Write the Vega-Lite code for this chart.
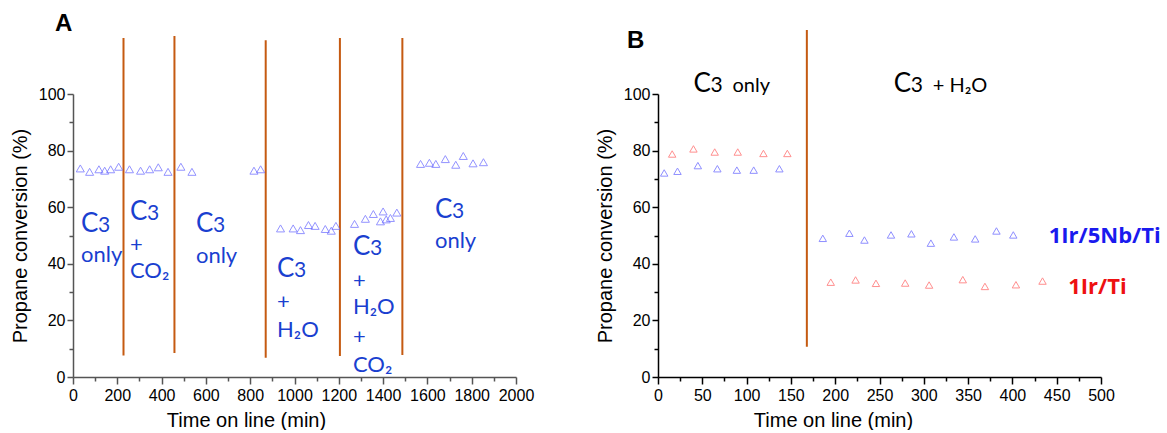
{
  "$schema": "https://vega.github.io/schema/vega-lite/v6.json",
  "background": "white",
  "padding": {"left": 10, "top": 11, "right": 0, "bottom": 0},
  "spacing": 61,
  "config": {
    "view": {"stroke": null},
    "axis": {
      "grid": false,
      "labelFont": "Liberation Sans",
      "labelFontSize": 16,
      "labelColor": "#000000",
      "titleFont": "Liberation Sans",
      "titleFontSize": 20,
      "titleFontWeight": "normal",
      "titleColor": "#000000",
      "labelOverlap": false,
      "labelFlush": false,
      "labelBound": false
    },
    "text": {"font": "Lato"}
  },
  "datasets": {
    "linesA": [
      {"t": 228, "v": 7.6, "v2": 119.8},
      {"t": 458, "v": 8.5, "v2": 120.5},
      {"t": 870, "v": 6.8, "v2": 119.0},
      {"t": 1205, "v": 7.4, "v2": 119.8},
      {"t": 1487, "v": 7.8, "v2": 119.8}
    ],
    "pointsA": [
      {"t": 33, "v": 73.7}, {"t": 75, "v": 72.5}, {"t": 117, "v": 73.4}, {"t": 143, "v": 72.9},
      {"t": 170, "v": 73.4}, {"t": 206, "v": 74.3}, {"t": 255, "v": 73.4}, {"t": 305, "v": 72.9},
      {"t": 346, "v": 73.4}, {"t": 385, "v": 74.1}, {"t": 429, "v": 72.5}, {"t": 487, "v": 74.3},
      {"t": 537, "v": 72.5}, {"t": 817, "v": 72.9}, {"t": 847, "v": 73.4},
      {"t": 937, "v": 52.5}, {"t": 994, "v": 52.5}, {"t": 1027, "v": 51.9}, {"t": 1063, "v": 53.7},
      {"t": 1093, "v": 53.4}, {"t": 1139, "v": 52.3}, {"t": 1166, "v": 51.7}, {"t": 1187, "v": 53.4},
      {"t": 1271, "v": 54.1}, {"t": 1320, "v": 55.9}, {"t": 1356, "v": 57.6}, {"t": 1388, "v": 55.0},
      {"t": 1400, "v": 58.5}, {"t": 1414, "v": 55.7}, {"t": 1433, "v": 56.2}, {"t": 1462, "v": 58.1},
      {"t": 1569, "v": 75.3}, {"t": 1609, "v": 75.7}, {"t": 1638, "v": 75.3}, {"t": 1681, "v": 77.0},
      {"t": 1728, "v": 75.0}, {"t": 1762, "v": 78.1}, {"t": 1806, "v": 75.5}, {"t": 1853, "v": 75.9}
    ],
    "textA": [
      {"label": "C3", "t": 36, "v": 51.3}, {"label": "only", "t": 36, "v": 40.7},
      {"label": "C3", "t": 257, "v": 55.5}, {"label": "+", "t": 257, "v": 44.0}, {"label": "CO₂", "t": 257, "v": 35.0},
      {"label": "C3", "t": 555, "v": 51.2}, {"label": "only", "t": 555, "v": 40.3},
      {"label": "C3", "t": 921, "v": 35.3}, {"label": "+", "t": 921, "v": 23.9}, {"label": "H₂O", "t": 921, "v": 14.1},
      {"label": "C3", "t": 1264, "v": 43.1}, {"label": "+", "t": 1264, "v": 31.6}, {"label": "H₂O", "t": 1264, "v": 22.3},
      {"label": "+", "t": 1264, "v": 11.5}, {"label": "CO₂", "t": 1264, "v": 1.8},
      {"label": "C3", "t": 1634, "v": 56.2}, {"label": "only", "t": 1634, "v": 45.6}
    ],
    "linesB": [
      {"t": 168, "v": 10.7, "v2": 122.6}
    ],
    "pointsB": [
      {"s": "1Ir/5Nb/Ti", "t": 7, "v": 72.1}, {"s": "1Ir/5Nb/Ti", "t": 22, "v": 72.7}, {"s": "1Ir/5Nb/Ti", "t": 45, "v": 74.7},
      {"s": "1Ir/5Nb/Ti", "t": 67, "v": 73.6}, {"s": "1Ir/5Nb/Ti", "t": 89, "v": 73.1}, {"s": "1Ir/5Nb/Ti", "t": 108, "v": 73.1},
      {"s": "1Ir/5Nb/Ti", "t": 137, "v": 73.6}, {"s": "1Ir/5Nb/Ti", "t": 186, "v": 49.0}, {"s": "1Ir/5Nb/Ti", "t": 216, "v": 50.8},
      {"s": "1Ir/5Nb/Ti", "t": 233, "v": 48.4}, {"s": "1Ir/5Nb/Ti", "t": 263, "v": 50.2}, {"s": "1Ir/5Nb/Ti", "t": 286, "v": 50.6},
      {"s": "1Ir/5Nb/Ti", "t": 308, "v": 47.3}, {"s": "1Ir/5Nb/Ti", "t": 334, "v": 49.5}, {"s": "1Ir/5Nb/Ti", "t": 358, "v": 48.8},
      {"s": "1Ir/5Nb/Ti", "t": 382, "v": 51.6}, {"s": "1Ir/5Nb/Ti", "t": 401, "v": 50.2},
      {"s": "1Ir/Ti", "t": 16, "v": 78.8}, {"s": "1Ir/Ti", "t": 40, "v": 80.6}, {"s": "1Ir/Ti", "t": 64, "v": 79.5},
      {"s": "1Ir/Ti", "t": 90, "v": 79.5}, {"s": "1Ir/Ti", "t": 119, "v": 79.0}, {"s": "1Ir/Ti", "t": 146, "v": 79.0},
      {"s": "1Ir/Ti", "t": 195, "v": 33.5}, {"s": "1Ir/Ti", "t": 223, "v": 34.3}, {"s": "1Ir/Ti", "t": 246, "v": 33.1},
      {"s": "1Ir/Ti", "t": 279, "v": 33.2}, {"s": "1Ir/Ti", "t": 306, "v": 32.5}, {"s": "1Ir/Ti", "t": 344, "v": 34.4},
      {"s": "1Ir/Ti", "t": 369, "v": 32.0}, {"s": "1Ir/Ti", "t": 404, "v": 32.6}, {"s": "1Ir/Ti", "t": 434, "v": 33.9}
    ],
    "textB": [
      {"label": "C3", "t": 40, "v": 100.7}, {"label": "only", "t": 84, "v": 100.7},
      {"label": "C3", "t": 266, "v": 100.7}, {"label": "+ H₂O", "t": 310, "v": 100.7}
    ],
    "seriesB": [
      {"label": "1Ir/5Nb/Ti", "t": 441, "v": 47.3},
      {"label": "1Ir/Ti", "t": 463, "v": 29.3}
    ]
  },
  "hconcat": [
    {
      "width": 443,
      "height": 283,
      "title": {"text": "A", "anchor": "start", "frame": "group", "dx": -18, "offset": -1, "fontSize": 24, "font": "Liberation Sans", "fontWeight": "bold", "color": "#000000"},
      "encoding": {
        "x": {
          "field": "t", "type": "quantitative",
          "scale": {"domain": [0, 2000], "nice": false},
          "axis": {
            "title": "Time on line (min)",
            "values": [0,100,200,300,400,500,600,700,800,900,1000,1100,1200,1300,1400,1500,1600,1700,1800,1900,2000],
            "labelExpr": "datum.value % 200 === 0 ? datum.label : ''",
            "format": "d",
            "tickSize": {"condition": {"test": "datum.value % 200 === 0", "value": 7}, "value": 4},
            "domainColor": "#555555", "tickColor": "#555555", "domainWidth": 1.5, "tickWidth": 1.5,
            "labelPadding": 3,
            "titleX": 173, "titlePadding": 7
          }
        },
        "y": {
          "field": "v", "type": "quantitative",
          "scale": {"domain": [0, 100], "nice": false},
          "axis": {
            "title": "Propane conversion (%)",
            "values": [0,10,20,30,40,50,60,70,80,90,100],
            "labelExpr": "datum.value % 20 === 0 ? datum.label : ''",
            "tickSize": {"condition": {"test": "datum.value % 20 === 0", "value": 6}, "value": 4},
            "domainColor": "#555555", "tickColor": "#555555", "domainWidth": 1.5, "tickWidth": 1.5,
            "labelPadding": 2, "titlePadding": 8
          }
        }
      },
      "layer": [
        {
          "data": {"name": "linesA"},
          "mark": {"type": "rule", "color": "#c55a11", "strokeWidth": 2},
          "encoding": {"y2": {"field": "v2"}}
        },
        {
          "data": {"name": "pointsA"},
          "mark": {"type": "point", "shape": "triangle-up", "filled": false, "color": "#6666ff", "strokeWidth": 1, "size": 65}
        },
        {
          "data": {"name": "textA"},
          "transform": [{"filter": "datum.label === 'C3'"}],
          "mark": {"type": "text", "align": "left", "baseline": "alphabetic", "fontSize": 26, "color": "#1a3fd0"},
          "encoding": {"text": {"value": "C"}}
        },
        {
          "data": {"name": "textA"},
          "transform": [{"filter": "datum.label === 'C3'"}],
          "mark": {"type": "text", "align": "left", "baseline": "alphabetic", "fontSize": 21, "dx": 17, "color": "#1a3fd0"},
          "encoding": {"text": {"value": "3"}}
        },
        {
          "data": {"name": "textA"},
          "transform": [{"filter": "datum.label !== 'C3'"}],
          "mark": {"type": "text", "align": "left", "baseline": "alphabetic", "fontSize": 22, "color": "#1a3fd0"},
          "encoding": {"text": {"field": "label"}}
        }
      ]
    },
    {
      "width": 443,
      "height": 283,
      "title": {"text": "B", "anchor": "start", "frame": "group", "dx": -31, "offset": -24, "fontSize": 24, "font": "Liberation Sans", "fontWeight": "bold", "color": "#000000"},
      "encoding": {
        "x": {
          "field": "t", "type": "quantitative",
          "scale": {"domain": [0, 500], "nice": false},
          "axis": {
            "title": "Time on line (min)",
            "values": [0,25,50,75,100,125,150,175,200,225,250,275,300,325,350,375,400,425,450,475,500],
            "labelExpr": "datum.value % 50 === 0 ? datum.label : ''",
            "tickSize": {"condition": {"test": "datum.value % 50 === 0", "value": 7}, "value": 4},
            "domainColor": "#000000", "tickColor": "#000000", "domainWidth": 1.5, "tickWidth": 1.5,
            "labelPadding": 3,
            "titleX": 175, "titlePadding": 7
          }
        },
        "y": {
          "field": "v", "type": "quantitative",
          "scale": {"domain": [0, 100], "nice": false},
          "axis": {
            "title": "Propane conversion (%)",
            "values": [0,10,20,30,40,50,60,70,80,90,100],
            "labelExpr": "datum.value % 20 === 0 ? datum.label : ''",
            "tickSize": {"condition": {"test": "datum.value % 20 === 0", "value": 6}, "value": 4},
            "domainColor": "#000000", "tickColor": "#000000", "domainWidth": 1.5, "tickWidth": 1.5,
            "labelPadding": 2, "titlePadding": 8
          }
        }
      },
      "layer": [
        {
          "data": {"name": "linesB"},
          "mark": {"type": "rule", "color": "#c55a11", "strokeWidth": 2},
          "encoding": {"y2": {"field": "v2"}}
        },
        {
          "data": {"name": "pointsB"},
          "mark": {"type": "point", "shape": "triangle-up", "filled": false, "strokeWidth": 1, "size": 55},
          "encoding": {
            "color": {"field": "s", "type": "nominal", "scale": {"domain": ["1Ir/5Nb/Ti", "1Ir/Ti"], "range": ["#6060ff", "#ff6060"]}, "legend": null}
          }
        },
        {
          "data": {"name": "textB"},
          "transform": [{"filter": "datum.label === 'C3'"}],
          "mark": {"type": "text", "align": "left", "baseline": "alphabetic", "fontSize": 26, "color": "#000000"},
          "encoding": {"text": {"value": "C"}}
        },
        {
          "data": {"name": "textB"},
          "transform": [{"filter": "datum.label === 'C3'"}],
          "mark": {"type": "text", "align": "left", "baseline": "alphabetic", "fontSize": 21, "dx": 17, "color": "#000000"},
          "encoding": {"text": {"value": "3"}}
        },
        {
          "data": {"name": "textB"},
          "transform": [{"filter": "datum.label !== 'C3'"}],
          "mark": {"type": "text", "align": "left", "baseline": "alphabetic", "fontSize": 20, "color": "#000000"},
          "encoding": {"text": {"field": "label"}}
        },
        {
          "data": {"name": "seriesB"},
          "transform": [{"filter": "datum.label === '1Ir/5Nb/Ti'"}],
          "mark": {"type": "text", "align": "left", "baseline": "alphabetic", "fontSize": 22, "fontWeight": "bold", "font": "Open Sans", "color": "#1a1aee"},
          "encoding": {"text": {"field": "label"}}
        },
        {
          "data": {"name": "seriesB"},
          "transform": [{"filter": "datum.label === '1Ir/Ti'"}],
          "mark": {"type": "text", "align": "left", "baseline": "alphabetic", "fontSize": 22, "fontWeight": "bold", "font": "Open Sans", "color": "#ee1111"},
          "encoding": {"text": {"field": "label"}}
        }
      ]
    }
  ]
}
